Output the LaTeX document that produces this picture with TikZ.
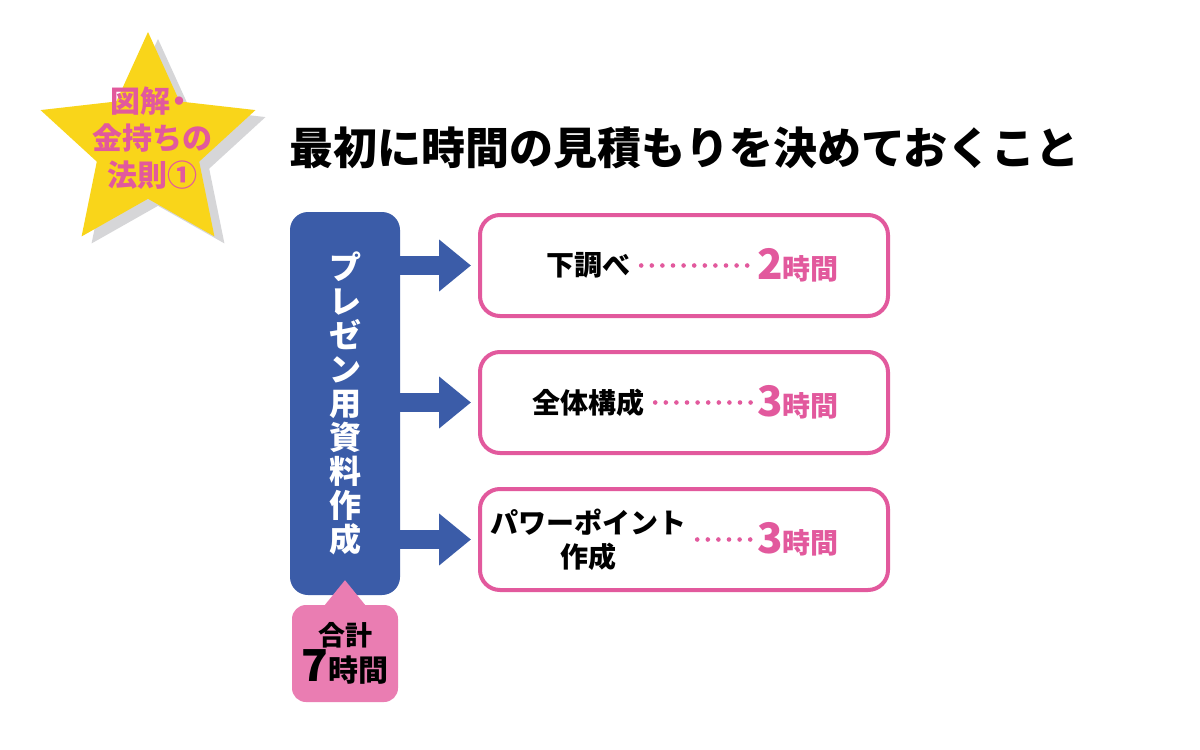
\documentclass[tikz,border=0pt]{standalone}
\usepackage{fontspec}
\setmainfont{Noto Sans CJK JP}
\usepackage{tikz}
\usetikzlibrary{shapes.geometric}
\usetikzlibrary{arrows.meta}

\definecolor{presblue}{HTML}{3B5CA8}
\definecolor{rosepink}{HTML}{E2599D}
\definecolor{rosefill}{HTML}{EA7DB2}
\definecolor{staryellow}{HTML}{F9D51A}
\definecolor{starshade}{HTML}{D6D6D8}
\newcommand{\setsz}[2]{\fontsize{#1}{#2}\selectfont}

\begin{document}
\begin{tikzpicture}[x=1pt, y=-1pt, font=\bfseries,
  taskbox/.style={draw=rosepink, line width=4pt, rounded corners=20pt, fill=white, minimum width=408pt, minimum height=101pt, inner sep=0pt},
  timedots/.style={rosepink, line width=4.6pt, line cap=round, dash pattern=on 0pt off 10.6pt},
  fatarrow/.style={presblue, line width=19pt, -{Triangle[length=32pt,width=50pt]}},
  bigstar/.style={star, star points=5, star point ratio=2.1, minimum size=226pt, inner sep=0pt}]

 \path[use as bounding box, fill=white] (0,0) rectangle (1200,750);

 % star
 \node[bigstar, fill=starshade] (shade) at (158,152) {};
 \node[bigstar, fill=staryellow] (star) at (148,145) {};
 \node[text=rosepink, align=center, inner sep=0pt, font=\bfseries\setsz{30}{37}] (startext) at (152,138) {図解\kern-6pt・\\金持ちの\\法則①};

 \node[anchor=west, inner sep=0pt, font=\bfseries\setsz{44}{50}] (title) at (289,148) {最初に時間の見積もりを決めておくこと};

 % main block
 \node[fill=presblue, rounded corners=18pt, minimum width=110pt, minimum height=383pt, text=white, align=center, font=\bfseries\setsz{32}{34}] (pres) at (345,403.5) {プ\\レ\\ゼ\\ン\\用\\資\\料\\作\\成};

 \node[fill=rosefill, rounded corners=14pt, minimum width=106pt, minimum height=97pt, align=center, inner sep=0pt] (total) at (345,653.5) {\setsz{27}{40}合計\\\setsz{44}{40}7\setsz{30}{40}時間};
 \fill[rosefill] ([xshift=-20pt]total.north) -- ([yshift=15pt]pres.south) -- ([xshift=20pt]total.north) -- cycle;

 % tasks
 \foreach \n/\y in {b1/265.5,b2/402.5,b3/539.5} {
         \node[taskbox] (\n) at (684,\y) {};
 }

 \foreach \n/\lab/\hrs in {b1/下調べ/2,b2/全体構成/3,b3/{パワーポイント\\作成}/3} {
         \node[align=center, inner sep=0pt, font=\bfseries\setsz{28}{34}] (\n lab) at ([xshift=-96pt]\n.center) {\lab};
         \node[anchor=west, inner sep=0pt, text=rosepink] (\n time) at ([xshift=73pt]\n.center) {\setsz{42}{42}\hrs\setsz{28}{28}時間};
         \draw[timedots] ([xshift=11pt]\n lab.east) -- ([xshift=-5pt]\n time.west);
 }

 % arrows
 \foreach \n in {b1,b2,b3}
 	\draw[fatarrow] (pres.east |- \n.west) -- ([xshift=-7pt]\n.west);

\end{tikzpicture}
\end{document}
